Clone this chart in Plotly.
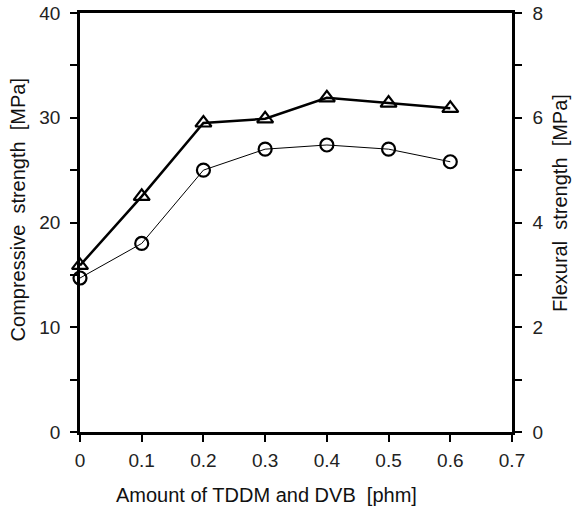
import plotly.graph_objects as go

x_phm = [0, 0.1, 0.2, 0.3, 0.4, 0.5, 0.6]
compressive = [15.9, 22.5, 29.5, 29.9, 31.9, 31.4, 30.9]
flexural = [2.94, 3.6, 5.0, 5.4, 5.48, 5.4, 5.16]

x_ticks = [0, 0.1, 0.2, 0.3, 0.4, 0.5, 0.6, 0.7]
x_ticktext = ["0", "0.1", "0.2", "0.3", "0.4", "0.5", "0.6", "0.7"]
left_ticks = [0, 5, 10, 15, 20, 25, 30, 35, 40]
left_ticktext = ["0", "", "10", "", "20", "", "30", "", "40"]
right_ticks = [0, 1, 2, 3, 4, 5, 6, 7, 8]
right_ticktext = ["0", "", "2", "", "4", "", "6", "", "8"]

x_title = "Amount of TDDM and DVB  [phm]"
left_title = "Compressive  strength  [MPa]"
right_title = "Flexural  strength  [MPa]"

FONT = "Liberation Sans"
TFONT = dict(family=FONT, size=20, color="#111")

fig = go.Figure()
fig.add_trace(go.Scatter(
    x=x_phm, y=flexural, yaxis="y2", mode="lines+markers",
    line=dict(color="black", width=1),
    marker=dict(symbol="circle-open", size=13, color="black", line=dict(width=2.2)),
    showlegend=False, cliponaxis=False,
))
fig.add_trace(go.Scatter(
    x=x_phm, y=compressive, mode="lines+markers",
    line=dict(color="black", width=2.5),
    marker=dict(symbol="triangle-up-open", size=14, color="black", line=dict(width=2.2)),
    showlegend=False, cliponaxis=False,
))

common = dict(
    showline=True, linecolor="black", linewidth=2.5,
    ticks="outside", ticklen=7, tickwidth=1.8, tickcolor="black",
    showgrid=False, zeroline=False, automargin=False,
    tickfont=dict(size=19, color="#222"),
)

fig.update_layout(
    width=573, height=510,
    margin=dict(l=80, r=61, t=13, b=78),
    paper_bgcolor="white", plot_bgcolor="white",
    font=dict(family=FONT, size=19, color="black"),
    xaxis=dict(
        range=[0, 0.7], tickvals=x_ticks, ticktext=x_ticktext, mirror=True,
        ticklabelstandoff=2, **common,
    ),
    yaxis=dict(
        range=[0, 40], tickvals=left_ticks, ticktext=left_ticktext,
        ticklabelstandoff=6, **common,
    ),
    yaxis2=dict(
        range=[0, 8], tickvals=right_ticks, ticktext=right_ticktext,
        overlaying="y", side="right", anchor="x",
        ticklabelstandoff=7, **common,
    ),
    annotations=[
        dict(text=x_title, xref="paper", yref="paper", x=0.4306, y=-0.150,
             xanchor="center", yanchor="middle", showarrow=False, font=TFONT),
        dict(text=left_title, xref="paper", yref="paper", x=-0.1447, y=0.530,
             xanchor="center", yanchor="middle", textangle=-90, showarrow=False, font=TFONT),
        dict(text=right_title, xref="paper", yref="paper", x=1.111, y=0.5465,
             xanchor="center", yanchor="middle", textangle=-90, showarrow=False, font=TFONT),
    ],
)

fig.write_html(
    "out.html",
    config={"displayModeBar": False},
    post_script="document.body.style.margin='0';document.body.style.overflow='hidden';",
)
